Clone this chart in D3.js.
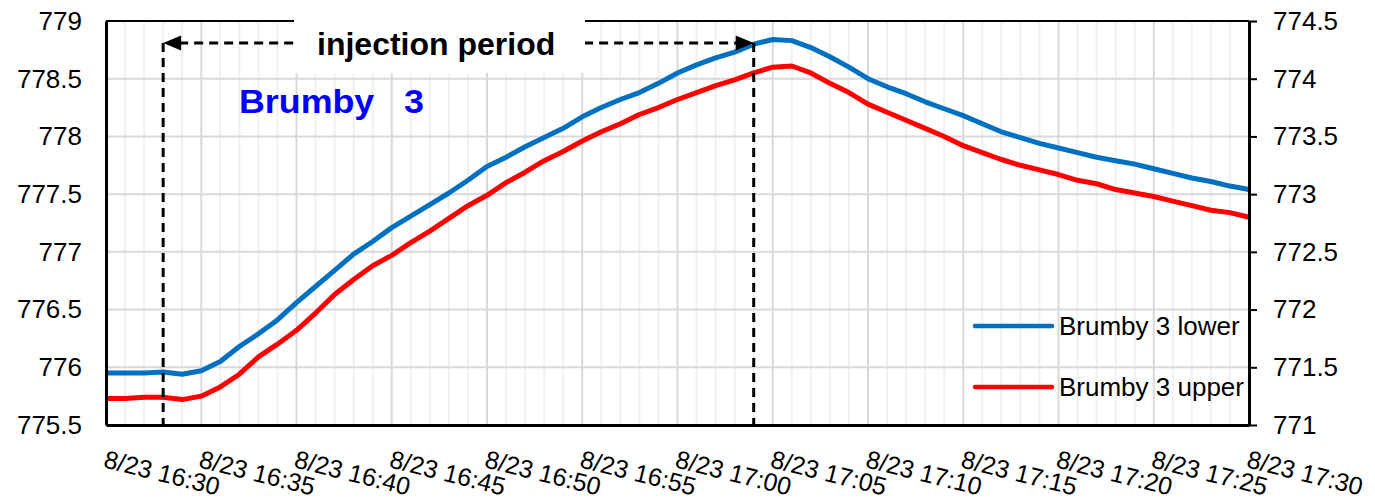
<!DOCTYPE html>
<html>
<head>
<meta charset="utf-8">
<script src="https://cdn.jsdelivr.net/npm/d3@7"></script>
<style>
  body { margin: 0; background: #fff; }
  text { font-family: "Liberation Sans", Arial, sans-serif; }
</style>
</head>
<body>
<svg id="chart"></svg>
<script>
// minutes after 8/23 16:30, one reading per minute
const minutes = d3.range(0, 61)

const lower = [775.95, 775.95, 775.95, 775.96, 775.94, 775.97, 776.05, 776.18, 776.29, 776.41,
  776.56, 776.70, 776.84, 776.98, 777.09, 777.21, 777.31, 777.41, 777.51, 777.62,
  777.74, 777.82, 777.91, 777.99, 778.07, 778.17, 778.25, 778.32, 778.38, 778.46,
  778.55, 778.62, 778.68, 778.73, 778.80, 778.84, 778.83, 778.77, 778.69, 778.60,
  778.50, 778.43, 778.37, 778.30, 778.24, 778.18, 778.11, 778.04, 777.99, 777.94,
  777.90, 777.86, 777.82, 777.79, 777.76, 777.72, 777.68, 777.64, 777.61, 777.57, 777.54]

const upper = [771.23, 771.23, 771.24, 771.24, 771.22, 771.25, 771.33, 771.44, 771.59, 771.70,
  771.82, 771.97, 772.13, 772.26, 772.38, 772.47, 772.58, 772.68, 772.79, 772.90,
  772.99, 773.10, 773.19, 773.29, 773.37, 773.46, 773.54, 773.61, 773.69, 773.75,
  773.82, 773.88, 773.94, 773.99, 774.05, 774.10, 774.11, 774.05, 773.96, 773.88,
  773.78, 773.71, 773.64, 773.57, 773.50, 773.42, 773.36, 773.30, 773.25, 773.21,
  773.17, 773.12, 773.09, 773.04, 773.01, 772.98, 772.94, 772.90, 772.86, 772.84, 772.80]

const leftTicks = [775.5, 776, 776.5, 777, 777.5, 778, 778.5, 779]
const rightTicks = [771, 771.5, 772, 772.5, 773, 773.5, 774, 774.5]
const xTickMinutes = [0, 5, 10, 15, 20, 25, 30, 35, 40, 45, 50, 55, 60]
const xTickLabels = ['8/23 16:30', '8/23 16:35', '8/23 16:40', '8/23 16:45', '8/23 16:50',
  '8/23 16:55', '8/23 17:00', '8/23 17:05', '8/23 17:10', '8/23 17:15', '8/23 17:20',
  '8/23 17:25', '8/23 17:30']

const series = [
  { name: 'Brumby 3 lower', values: lower, color: '#0070c0', axis: 'left' },
  { name: 'Brumby 3 upper', values: upper, color: '#ff0000', axis: 'right' }
]

// injection from 16:33 to 17:04, arrow drawn at this left-axis level
const injection = { start: 3, end: 34, level: 778.81 }

var width = 1375
var height = 499
var margin = { top: 21, right: 126, bottom: 74, left: 106 }

var svg = d3.select('#chart').attr('width', width).attr('height', height)

var x = d3.scaleLinear().domain([0, 60]).range([margin.left, width - margin.right])
var yL = d3.scaleLinear().domain([775.5, 779]).range([height - margin.bottom, margin.top])
var yR = d3.scaleLinear().domain([771, 774.5]).range([height - margin.bottom, margin.top])

var x0 = x.range()[0], x1 = x.range()[1]
var yb = yL.range()[0], yt = yL.range()[1]

// gridlines
var grid = svg.append('g')
grid.selectAll('line.minor')
  .data(d3.range(1, 60).filter((m) => m % 5 !== 0))
  .join('line')
  .attr('x1', (d) => x(d)).attr('x2', (d) => x(d))
  .attr('y1', yt).attr('y2', yb)
  .attr('stroke', '#f0f0f0').attr('stroke-width', 2)
grid.selectAll('line.major')
  .data(xTickMinutes.slice(1, -1))
  .join('line')
  .attr('x1', (d) => x(d)).attr('x2', (d) => x(d))
  .attr('y1', yt).attr('y2', yb)
  .attr('stroke', '#d9d9d9').attr('stroke-width', 2)
grid.selectAll('line.h')
  .data(leftTicks.slice(1, -1))
  .join('line')
  .attr('x1', x0).attr('x2', x1)
  .attr('y1', (d) => yL(d)).attr('y2', (d) => yL(d))
  .attr('stroke', '#d9d9d9').attr('stroke-width', 2)

// top border
svg.append('line')
  .attr('x1', x0).attr('x2', x1).attr('y1', yt).attr('y2', yt)
  .attr('stroke', '#000').attr('stroke-width', 2)

// series
series.forEach((s) => {
  var yy = s.axis === 'left' ? yL : yR
  var line = d3.line().x((d, i) => x(minutes[i])).y((d) => yy(d))
  svg.append('path')
    .datum(s.values)
    .attr('fill', 'none')
    .attr('stroke', s.color)
    .attr('stroke-width', 5)
    .attr('stroke-linejoin', 'round')
    .attr('d', line)
})

// injection period annotation
var ay = yL(injection.level)
var xs = x(injection.start), xe = x(injection.end)
var ann = svg.append('g').attr('stroke', '#000').attr('stroke-width', 3).attr('stroke-dasharray', '9,6')
ann.append('line').attr('x1', xs).attr('x2', xs).attr('y1', ay).attr('y2', yb)
ann.append('line').attr('x1', xe).attr('x2', xe).attr('y1', ay).attr('y2', yb)
ann.append('line').attr('x1', xs + 16).attr('x2', xe - 16).attr('y1', ay).attr('y2', ay)
svg.append('path')
  .attr('d', `M${xs},${ay}L${xs + 18},${ay - 7.5}L${xs + 18},${ay + 7.5}Z`)
  .attr('fill', '#000')
svg.append('path')
  .attr('d', `M${xe},${ay}L${xe - 18},${ay - 7.5}L${xe - 18},${ay + 7.5}Z`)
  .attr('fill', '#000')

svg.append('rect')
  .attr('x', 294).attr('y', 0).attr('width', 291).attr('height', 73)
  .attr('fill', '#fff')
svg.append('text')
  .attr('x', 317).attr('y', 55)
  .attr('font-size', 32).attr('font-weight', 'bold')
  .text('injection period')

svg.append('text')
  .attr('x', 239).attr('y', 113)
  .attr('font-size', 33).attr('font-weight', 'bold')
  .attr('fill', '#0000ff')
  .attr('textLength', 185).attr('lengthAdjust', 'spacingAndGlyphs')
  .style('white-space', 'pre')
  .text('Brumby   3')

// axes
var leftAxis = svg.append('g')
  .attr('transform', `translate(${x0},0)`)
  .call(d3.axisLeft(yL).tickValues(leftTicks).tickSize(0).tickSizeOuter(0).tickPadding(24)
    .tickFormat(d3.format('')))
var rightAxis = svg.append('g')
  .attr('transform', `translate(${x1},0)`)
  .call(d3.axisRight(yR).tickValues(rightTicks).tickSize(8).tickSizeOuter(0).tickPadding(16)
    .tickFormat(d3.format('')))
var bottomAxis = svg.append('g')
  .attr('transform', `translate(0,${yb})`)
  .call(d3.axisBottom(x).tickValues(xTickMinutes).tickSize(0).tickSizeOuter(0)
    .tickFormat((d, i) => xTickLabels[i]))

;[leftAxis, rightAxis, bottomAxis].forEach((a) => {
  a.select('.domain').attr('stroke', '#000').attr('stroke-width', 3)
  a.selectAll('.tick line').attr('stroke', '#000').attr('stroke-width', 2)
  a.selectAll('text').attr('font-family', '"Liberation Sans", Arial, sans-serif')
    .attr('font-size', 26).attr('fill', '#000')
})
bottomAxis.selectAll('text')
  .attr('font-size', 25)
  .attr('text-anchor', 'start')
  .attr('y', 0).attr('dy', 0)
  .attr('transform', 'translate(-4,42) rotate(14)')

// legend
var legend = svg.append('g')
series.forEach((s, i) => {
  var ly = 326 + i * 61
  legend.append('line')
    .attr('x1', 975).attr('x2', 1052).attr('y1', ly).attr('y2', ly)
    .attr('stroke', s.color).attr('stroke-width', 4.5).attr('stroke-linecap', 'round')
  legend.append('text')
    .attr('x', 1059).attr('y', ly).attr('dy', '0.35em')
    .attr('font-size', 26)
    .text(s.name)
})
</script>
</body>
</html>
